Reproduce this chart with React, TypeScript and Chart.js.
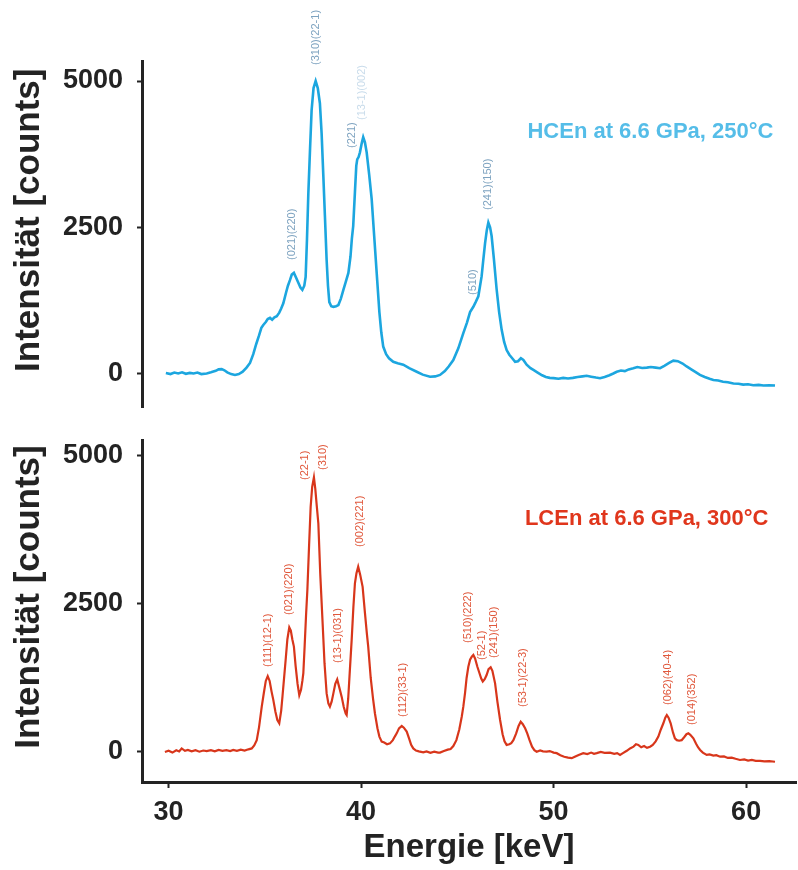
import React, { useEffect, useRef } from 'react';
import { Chart, registerables } from 'chart.js';

Chart.register(...registerables);

// ---------- data (energy in keV, intensity in counts) ----------
const hcEnergy = [
  29.86, 30.1, 30.3, 30.5, 30.7, 30.9, 31.1, 31.3, 31.5, 31.7, 31.98, 32.2, 32.45, 32.6, 32.76, 32.9, 33.05, 33.25, 33.45, 33.65,
  33.85, 34.05, 34.23, 34.4, 34.55, 34.7, 34.82, 34.92, 35.05, 35.15, 35.27, 35.38, 35.5, 35.62, 35.75, 35.85, 35.96, 36.1, 36.2, 36.31,
  36.4, 36.51, 36.62, 36.74, 36.85, 36.95, 37.05, 37.12, 37.19, 37.26, 37.35, 37.43, 37.53, 37.64, 37.75, 37.86, 37.95, 38.04, 38.12, 38.21,
  38.28, 38.35, 38.45, 38.56, 38.7, 38.82, 38.95, 39.08, 39.2, 39.34, 39.45, 39.52, 39.59, 39.68, 39.75, 39.8, 39.87, 39.94, 40.03, 40.11,
  40.2, 40.29, 40.42, 40.55, 40.68, 40.81, 40.95, 41.05, 41.15, 41.3, 41.45, 41.67, 41.9, 42.19, 42.5, 42.89, 43.2, 43.58, 43.85, 44.1,
  44.35, 44.55, 44.79, 45.05, 45.31, 45.5, 45.66, 45.83, 45.95, 46.09, 46.18, 46.26, 46.35, 46.44, 46.53, 46.61, 46.7, 46.78, 46.9, 47.04,
  47.17, 47.3, 47.43, 47.56, 47.7, 47.85, 48.0, 48.15, 48.3, 48.43, 48.6, 48.8, 48.95, 49.15, 49.4, 49.6, 49.8, 50.0, 50.25, 50.5,
  50.75, 51.0, 51.25, 51.5, 51.72, 51.95, 52.2, 52.41, 52.65, 52.9, 53.1, 53.28, 53.5, 53.7, 53.9, 54.14, 54.35, 54.6, 54.84, 55.05,
  55.3, 55.53, 55.75, 56.0, 56.22, 56.45, 56.7, 56.91, 57.15, 57.4, 57.6, 57.85, 58.1, 58.3, 58.55, 58.8, 59.05, 59.34, 59.6, 59.85,
  60.1, 60.37, 60.65, 60.9, 61.2, 61.5,
];
const hcCounts = [
  10, -10, 15, 0, 20, -5, 10, 0, 15, -10, 0, 20, 45, 70, 75, 55, 20, -10, -25, -10,
  30, 100, 180, 330, 500, 650, 780, 830, 880, 930, 950, 920, 960, 980, 1040, 1110, 1200, 1380, 1500, 1600,
  1690, 1720, 1640, 1550, 1470, 1430, 1500, 1650, 2300, 3080, 3850, 4500, 4880, 5000, 4880, 4620, 4100, 3370, 2700, 1940,
  1500, 1220, 1150, 1140, 1150, 1170, 1280, 1430, 1560, 1720, 2000, 2300, 2520, 3100, 3550, 3660, 3700, 3780, 3930, 4040,
  3950, 3780, 3400, 2980, 2350, 1720, 1050, 700, 460, 330, 260, 200, 175, 150, 90, 30, -20, -55, -50, -25,
  40, 120, 230, 430, 690, 870, 1050, 1140, 1220, 1320, 1500, 1660, 1950, 2230, 2450, 2580, 2500, 2350, 1950, 1440,
  1050, 750, 540, 400, 320, 260, 200, 210, 260, 230, 150, 90, 60, 20, -30, -60, -75, -80, -90, -75,
  -85, -75, -60, -50, -40, -55, -70, -80, -60, -30, 0, 30, 50, 40, 70, 90, 110, 95, 100, 110,
  100, 90, 130, 180, 220, 210, 170, 120, 70, 20, -25, -60, -90, -110, -120, -140, -150, -170, -175, -190,
  -185, -200, -195, -205, -200, -205,
];

const lcEnergy = [
  29.81, 30.0, 30.2, 30.4, 30.55, 30.68, 30.85, 31.0, 31.2, 31.4, 31.6, 31.8, 31.98, 32.2, 32.4, 32.6, 32.8, 33.0, 33.2, 33.36,
  33.55, 33.75, 33.95, 34.15, 34.32, 34.45, 34.58, 34.7, 34.84, 34.95, 35.05, 35.15, 35.25, 35.35, 35.44, 35.55, 35.65, 35.75, 35.85, 35.92,
  35.99, 36.08, 36.17, 36.27, 36.35, 36.43, 36.51, 36.6, 36.7, 36.79, 36.88, 36.95, 37.0, 37.07, 37.14, 37.21, 37.3, 37.38, 37.46, 37.55,
  37.62, 37.7, 37.78, 37.88, 38.01, 38.1, 38.21, 38.3, 38.38, 38.47, 38.56, 38.66, 38.76, 38.86, 38.99, 39.1, 39.2, 39.25, 39.33, 39.42,
  39.51, 39.6, 39.68, 39.76, 39.85, 39.95, 40.08, 40.2, 40.3, 40.37, 40.5, 40.62, 40.72, 40.85, 40.95, 41.07, 41.2, 41.35, 41.5, 41.65,
  41.75, 41.85, 41.97, 42.11, 42.22, 42.37, 42.5, 42.6, 42.71, 42.85, 43.0, 43.23, 43.4, 43.6, 43.8, 44.0, 44.1, 44.3, 44.5, 44.65,
  44.79, 44.95, 45.1, 45.23, 45.31, 45.4, 45.48, 45.57, 45.66, 45.75, 45.83, 45.92, 46.04, 46.15, 46.24, 46.32, 46.42, 46.52, 46.62, 46.73,
  46.82, 46.96, 47.08, 47.22, 47.35, 47.45, 47.56, 47.7, 47.8, 47.91, 48.05, 48.18, 48.29, 48.4, 48.52, 48.63, 48.75, 48.88, 49.0, 49.12,
  49.3, 49.45, 49.64, 49.8, 50.0, 50.16, 50.35, 50.55, 50.75, 50.94, 51.1, 51.3, 51.54, 51.75, 51.95, 52.1, 52.24, 52.45, 52.65, 52.93,
  53.15, 53.3, 53.45, 53.6, 53.8, 53.97, 54.15, 54.28, 54.4, 54.55, 54.7, 54.85, 55.01, 55.15, 55.3, 55.44, 55.57, 55.7, 55.8, 55.88,
  55.97, 56.08, 56.2, 56.3, 56.4, 56.52, 56.65, 56.78, 56.9, 57.0, 57.1, 57.26, 57.4, 57.5, 57.61, 57.75, 57.95, 58.1, 58.3, 58.45,
  58.65, 58.85, 59.05, 59.25, 59.45, 59.68, 59.9, 60.1, 60.3, 60.5, 60.72, 60.95, 61.2, 61.5,
];
const lcCounts = [
  0, 20, -10, 30, 10, 60, 20, 35, 10, 30, 5, 25, 15, 30, 10, 35, 20, 30, 15, 35,
  20, 40, 25, 45, 60, 110, 200, 420, 765, 1000, 1200, 1280, 1200, 1020, 880, 680, 540, 485, 700, 950,
  1215, 1550, 1900, 2105, 2050, 1900, 1780, 1450, 1150, 960, 1050, 1200, 1330, 1800, 2300, 2740, 3500, 4140, 4480, 4640,
  4450, 4150, 3860, 3000, 2120, 1500, 990, 820, 765, 850, 990, 1150, 1225, 1100, 935, 760, 650, 625, 900, 1400,
  1890, 2450, 2850, 3020, 3130, 3000, 2790, 2350, 2000, 1780, 1250, 900, 650, 400, 260, 175, 160, 130, 145, 200,
  260, 315, 400, 440, 410, 345, 220, 120, 60, 25, 10, -5, 10, -15, 5, -10, -10, 15, 40, 50,
  100, 200, 380, 600, 765, 1000, 1250, 1440, 1560, 1610, 1640, 1580, 1440, 1330, 1240, 1190, 1230, 1300, 1400, 1430,
  1370, 1160, 850, 540, 300, 180, 120, 130, 150, 200, 310, 440, 510, 470, 400, 315, 200, 90, 30, 5,
  25, 10, 5, 15, -10, -20, -55, -80, -95, -105, -80, -50, -20, -35, -10, -30, -20, 0, -15, -10,
  -30, -20, -50, -20, 20, 60, 90, 130, 120, 80, 100, 70, 90, 120, 180, 260, 380, 485, 580, 625,
  580, 485, 330, 230, 200, 190, 200, 250, 300, 315, 290, 230, 140, 80, 35, -10, -50, -40, -60, -55,
  -80, -75, -100, -95, -115, -135, -125, -145, -135, -150, -150, -160, -155, -165,
];

const xTickValues = [30, 40, 50, 60];
const yTickValues = [0, 2500, 5000];

// peak annotations: text, energy (keV) and intensity (counts) where the text starts
const hcPeakText = ['(021)(220)', '(310)(22-1)', '(221)', '(13-1)(002)', '(510)', '(241)(150)'];
const hcPeakEnergy = [36.41, 37.66, 39.53, 40.05, 45.81, 46.59];
const hcPeakCounts = [1940, 5274, 3855, 4333, 1342, 2795];

const lcPeakText = [
  '(111)(12-1)', '(021)(220)', '(22-1)', '(310)', '(13-1)(031)', '(002)(221)', '(112)(33-1)',
  '(510)(222)', '(52-1)', '(241)(150)', '(53-1)(22-3)', '(062)(40-4)', '(014)(352)',
];
const lcPeakEnergy = [35.17, 36.25, 37.09, 38.02, 38.8, 39.94, 42.17, 45.55, 46.28, 46.9, 48.41, 55.95, 57.19];
const lcPeakCounts = [1436, 2314, 4595, 4764, 1503, 3463, 591, 1841, 1554, 1588, 760, 794, 456];

const hcSample = 'HCEn at 6.6 GPa, 250°C';
const lcSample = 'LCEn at 6.6 GPa, 300°C';
const sampleEnergy = [48.64, 48.51];
const sampleCounts = [4128, 3936];

const yTitle = 'Intensität [counts]';
const xTitle = 'Energie [keV]';

// ---------- styling ----------
const FONT = '"Liberation Sans", Arial, Helvetica, sans-serif';
const AXIS = '#232323';
const X_MIN = 28.62;
const X_MAX = 62.59;

type PanelProps = {
  top: number;
  height: number;
  energy: number[];
  counts: number[];
  yMin: number;
  yMax: number;
  padTop: number;
  padBottom: number;
  showX: boolean;
  lineColor: string;
  lineWidth: number;
  peakText: string[];
  peakEnergy: number[];
  peakCounts: number[];
  peakColors: string[];
  sample: string;
  sampleE: number;
  sampleC: number;
  sampleColor: string;
};

function Panel(p: PanelProps) {
  const ref = useRef<HTMLCanvasElement | null>(null);

  useEffect(() => {
    const canvas = ref.current;
    if (!canvas) return;

    const annot = {
      id: 'annot' + p.top,
      afterDraw(chart: any) {
        const { ctx } = chart;
        const xs = chart.scales.x;
        const ys = chart.scales.y;
        ctx.save();
        // peak labels (rotated)
        p.peakText.forEach((t, i) => {
          const px = xs.getPixelForValue(p.peakEnergy[i]);
          const py = ys.getPixelForValue(p.peakCounts[i]);
          ctx.save();
          ctx.translate(px, py);
          ctx.rotate(-Math.PI / 2);
          ctx.font = `11px ${FONT}`;
          ctx.fillStyle = p.peakColors[i];
          ctx.textAlign = 'left';
          ctx.textBaseline = 'middle';
          ctx.fillText(t, 0, 0);
          ctx.restore();
        });
        // sample label
        ctx.font = `bold 22px ${FONT}`;
        ctx.fillStyle = p.sampleColor;
        ctx.textAlign = 'left';
        ctx.textBaseline = 'middle';
        ctx.fillText(p.sample, xs.getPixelForValue(p.sampleE), ys.getPixelForValue(p.sampleC));
        // y axis title
        const cy = (ys.getPixelForValue(yTickValues[0]) + ys.getPixelForValue(yTickValues[yTickValues.length - 1])) / 2 - 7;
        ctx.save();
        ctx.translate(29, cy);
        ctx.rotate(-Math.PI / 2);
        ctx.font = `bold 35px ${FONT}`;
        ctx.fillStyle = AXIS;
        ctx.textAlign = 'center';
        ctx.textBaseline = 'middle';
        ctx.fillText(yTitle, 0, 0);
        ctx.restore();
        ctx.restore();
      },
    };

    const tickFont = { family: FONT, size: 27, weight: 'bold' as const, lineHeight: 1.2 };

    const chart = new Chart(canvas, {
      type: 'line',
      data: {
        datasets: [
          {
            data: p.energy.map((e, i) => ({ x: e, y: p.counts[i] })),
            borderColor: p.lineColor,
            borderWidth: p.lineWidth,
            pointRadius: 0,
            tension: 0,
            fill: false,
          },
        ],
      },
      options: {
        responsive: false,
        animation: false,
        devicePixelRatio: 1,
        layout: { padding: { top: p.padTop, bottom: p.padBottom, left: 0, right: 2 } },
        plugins: { legend: { display: false }, tooltip: { enabled: false }, title: { display: false } },
        scales: {
          x: {
            type: 'linear',
            display: p.showX,
            min: X_MIN,
            max: X_MAX,
            afterBuildTicks: (s: any) => {
              s.ticks = xTickValues.map((v) => ({ value: v }));
            },
            afterFit: (s: any) => {
              if (p.showX) s.height = 88;
            },
            grid: { drawOnChartArea: false, drawTicks: true, tickLength: 6, tickColor: AXIS, tickWidth: 2 },
            border: { display: true, color: AXIS, width: 3 },
            ticks: { font: tickFont, color: AXIS, padding: 8, maxRotation: 0, autoSkip: false, callback: (v: any) => String(v) },
            title: {
              display: true,
              text: xTitle,
              color: AXIS,
              font: { family: FONT, size: 33, weight: 'bold', lineHeight: 1.2 },
              padding: { top: 0, bottom: 2 },
            },
          },
          y: {
            type: 'linear',
            min: p.yMin,
            max: p.yMax,
            afterBuildTicks: (s: any) => {
              s.ticks = yTickValues.map((v) => ({ value: v }));
            },
            afterFit: (s: any) => {
              s.width = 142;
            },
            grid: { drawOnChartArea: false, drawTicks: true, tickLength: 5, tickColor: AXIS, tickWidth: 2 },
            border: { display: true, color: AXIS, width: 3 },
            ticks: { font: tickFont, color: AXIS, padding: 14, autoSkip: false, callback: (v: any) => String(v) },
          },
        },
      },
      plugins: [annot],
    } as any);

    return () => chart.destroy();
  }, []);

  return (
    <canvas
      ref={ref}
      width={798}
      height={p.height}
      style={{ position: 'absolute', left: 0, top: p.top, width: 798, height: p.height, display: 'block' }}
    />
  );
}

export default function App() {
  const hcLabelColor = '#7ea3c0';
  const hcFaint = '#c9dceb';
  const lcLabelColor = '#e0583c';
  return (
    <div style={{ position: 'absolute', left: 0, top: 0, width: 798, height: 870, background: '#ffffff', overflow: 'hidden' }}>
      <Panel
        top={0}
        height={440}
        energy={hcEnergy}
        counts={hcCounts}
        yMin={-573}
        yMax={5342}
        padTop={61}
        padBottom={33}
        showX={false}
        lineColor="#1ca6df"
        lineWidth={2.6}
        peakText={hcPeakText}
        peakEnergy={hcPeakEnergy}
        peakCounts={hcPeakCounts}
        peakColors={[hcLabelColor, hcLabelColor, hcLabelColor, hcFaint, hcLabelColor, hcLabelColor]}
        sample={hcSample}
        sampleE={sampleEnergy[0]}
        sampleC={sampleCounts[0]}
        sampleColor="#55bde8"
      />
      <Panel
        top={400}
        height={470}
        energy={lcEnergy}
        counts={lcCounts}
        yMin={-507}
        yMax={5270}
        padTop={40}
        padBottom={0}
        showX={true}
        lineColor="#d8361b"
        lineWidth={2.2}
        peakText={lcPeakText}
        peakEnergy={lcPeakEnergy}
        peakCounts={lcPeakCounts}
        peakColors={lcPeakText.map(() => lcLabelColor)}
        sample={lcSample}
        sampleE={sampleEnergy[1]}
        sampleC={sampleCounts[1]}
        sampleColor="#e0361c"
      />
    </div>
  );
}
